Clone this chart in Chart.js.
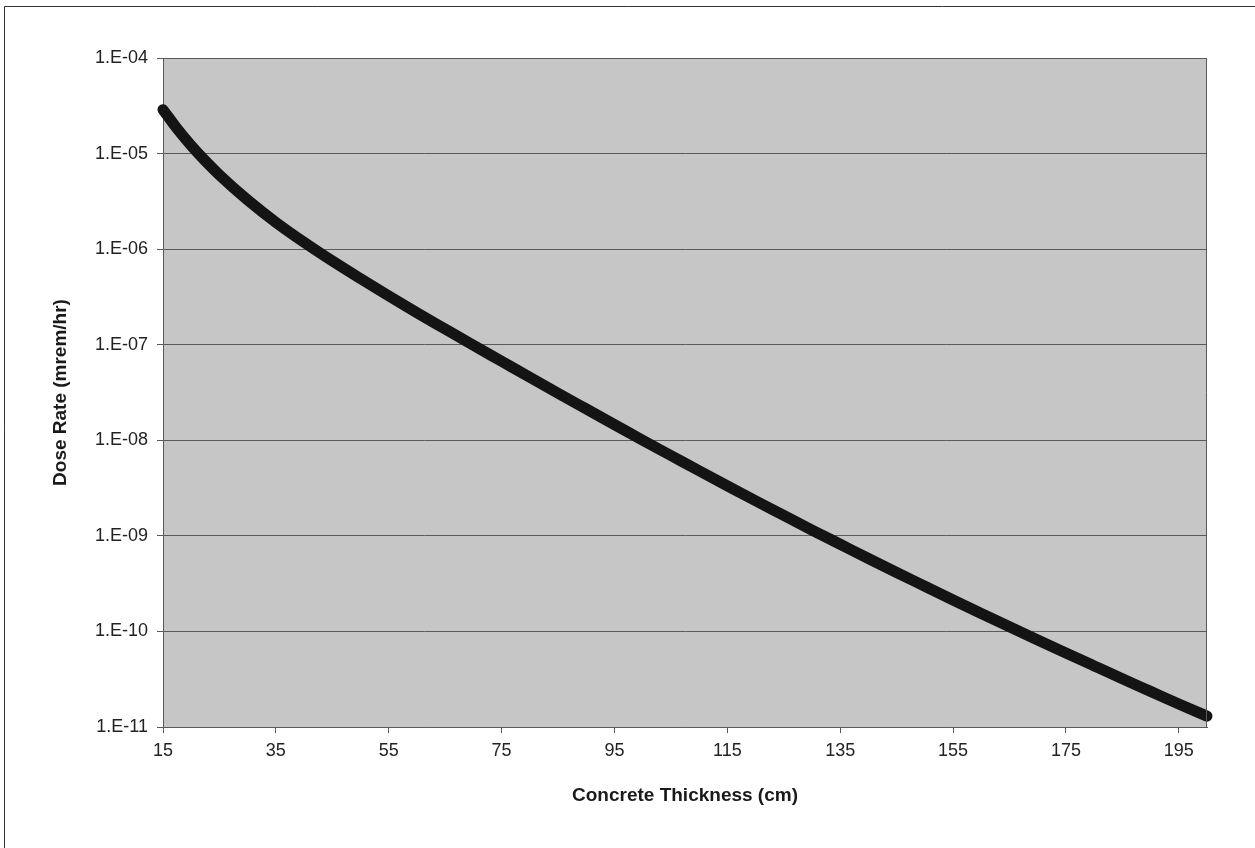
<!DOCTYPE html>
<html>
<head>
<meta charset="utf-8">
<script src="https://cdn.jsdelivr.net/npm/chart.js@4/dist/chart.umd.min.js"></script>
<style>
  html, body { margin: 0; padding: 0; background: #ffffff; }
  #wrap { width: 1255px; height: 848px; position: relative; }
</style>
</head>
<body>
<div id="wrap"><canvas id="chart" width="1255" height="848"></canvas></div>
<script>
// concrete thickness (cm)
const thickness = [15, 17.5, 20, 22.5, 25, 30, 35, 40, 45, 50, 55, 60, 65, 70, 75, 80, 85, 90, 95, 100,
    105, 110, 115, 120, 125, 130, 135, 140, 145, 150, 155, 160, 165, 170, 175, 180, 185, 190, 195, 200];

// dose rate (mrem/hr)
const doseRate = [2.88e-5, 1.82e-5, 1.21e-5, 8.38e-6, 5.98e-6, 3.27e-6, 1.91e-6, 1.18e-6, 7.52e-7, 4.91e-7,
    3.24e-7, 2.16e-7, 1.46e-7, 9.87e-8, 6.71e-8, 4.56e-8, 3.11e-8, 2.13e-8, 1.46e-8, 1.00e-8,
    6.93e-9, 4.80e-9, 3.34e-9, 2.33e-9, 1.64e-9, 1.15e-9, 8.17e-10, 5.80e-10, 4.14e-10, 2.97e-10,
    2.13e-10, 1.54e-10, 1.12e-10, 8.15e-11, 5.95e-11, 4.36e-11, 3.20e-11, 2.36e-11, 1.74e-11, 1.30e-11];

const xTicks = [15, 35, 55, 75, 95, 115, 135, 155, 175, 195];
const yTicks = [1e-11, 1e-10, 1e-9, 1e-8, 1e-7, 1e-6, 1e-5, 1e-4];
const yTickLabels = ['1.E-11', '1.E-10', '1.E-09', '1.E-08', '1.E-07', '1.E-06', '1.E-05', '1.E-04'];

const plotFrame = {
    id: 'plotFrame',
    beforeDraw(chart) {
        const { ctx, chartArea: a } = chart;
        ctx.save();
        ctx.fillStyle = '#c6c6c6';
        ctx.fillRect(a.left, a.top, a.right - a.left, a.bottom - a.top);
        ctx.restore();
    },
    afterDatasetsDraw(chart) {
        const { ctx, chartArea: a } = chart;
        ctx.save();
        ctx.strokeStyle = '#5a5a5a';
        ctx.lineWidth = 1;
        ctx.beginPath();
        ctx.moveTo(a.left, a.top + 0.5);
        ctx.lineTo(a.right, a.top + 0.5);
        ctx.moveTo(a.right - 0.5, a.top);
        ctx.lineTo(a.right - 0.5, a.bottom);
        ctx.stroke();
        // outer frame (runs off the right and bottom edges)
        ctx.strokeStyle = '#333333';
        ctx.beginPath();
        ctx.moveTo(4.5, 848);
        ctx.lineTo(4.5, 6.5);
        ctx.lineTo(1255, 6.5);
        ctx.stroke();
        ctx.restore();
    }
};

const ctx = document.getElementById('chart').getContext('2d');
new Chart(ctx, {
    type: 'line',
    data: {
        datasets: [{
            data: thickness.map((t, i) => ({ x: t, y: doseRate[i] })),
            borderColor: '#141414',
            borderWidth: 11,
            borderCapStyle: 'round',
            borderJoinStyle: 'round',
            pointRadius: 0,
            cubicInterpolationMode: 'monotone',
            clip: false
        }]
    },
    options: {
        responsive: false,
        animation: false,
        layout: { padding: { left: 0, right: 48, top: 58, bottom: 0 } },
        plugins: {
            legend: { display: false },
            tooltip: { enabled: false }
        },
        scales: {
            x: {
                type: 'linear',
                min: 15,
                max: 200,
                afterBuildTicks: scale => { scale.ticks = xTicks.map(v => ({ value: v })); },
                afterFit: scale => { scale.height = 121; },
                ticks: {
                    autoSkip: false,
                    maxRotation: 0,
                    padding: 7,
                    color: '#222222',
                    font: { family: 'Liberation Sans, Arial, sans-serif', size: 18 }
                },
                grid: { drawOnChartArea: false, drawTicks: true, tickLength: 6, color: '#5a5a5a' },
                border: { display: true, color: '#5a5a5a', width: 1 },
                title: {
                    display: true,
                    text: 'Concrete Thickness (cm)',
                    color: '#1a1a1a',
                    padding: { top: 0, bottom: 41 },
                    font: { family: 'Liberation Sans, Arial, sans-serif', size: 19, weight: 'bold' }
                }
            },
            y: {
                type: 'logarithmic',
                min: 1e-11,
                max: 1e-4,
                afterBuildTicks: scale => { scale.ticks = yTicks.map(v => ({ value: v })); },
                afterFit: scale => { scale.width = 163; },
                ticks: {
                    autoSkip: false,
                    padding: 9,
                    color: '#222222',
                    font: { family: 'Liberation Sans, Arial, sans-serif', size: 18 },
                    callback: (value, index) => yTickLabels[index]
                },
                grid: { drawOnChartArea: true, drawTicks: true, tickLength: 6, color: '#5a5a5a', lineWidth: 1 },
                border: { display: true, color: '#5a5a5a', width: 1 },
                title: {
                    display: true,
                    text: 'Dose Rate (mrem/hr)',
                    color: '#1a1a1a',
                    padding: { top: 49, bottom: 0 },
                    font: { family: 'Liberation Sans, Arial, sans-serif', size: 19, weight: 'bold' }
                }
            }
        }
    },
    plugins: [plotFrame]
});
</script>
</body>
</html>
